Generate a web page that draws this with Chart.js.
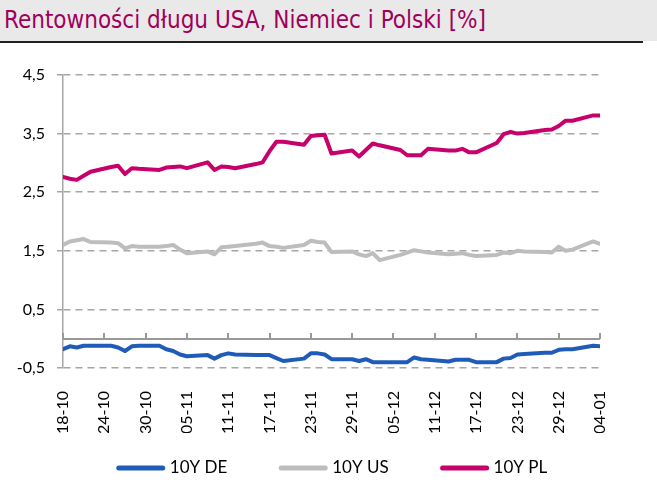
<!DOCTYPE html>
<html>
<head>
<meta charset="utf-8">
<script src="https://cdn.jsdelivr.net/npm/chart.js@4"></script>
<style>
    body { margin: 0; background: #fff; width: 657px; height: 495px; overflow: hidden; }
    #title {
        position: absolute; left: 0; top: 0; width: 657px; height: 41px;
        background: #e9e9e9;
        font-family: "DejaVu Sans Condensed", sans-serif;
        font-size: 24px; color: #a0005a;
        line-height: 41px; padding-left: 4px; box-sizing: border-box;
    }
    #rule { position: absolute; left: 0; top: 41px; width: 643px; height: 2px; background: #222; }
    #box { position: absolute; left: 0; top: 44px; width: 643px; height: 451px; }
</style>
</head>
<body>
<div id="title">Rentowności długu USA, Niemiec i Polski [%]</div>
<div id="rule"></div>
<div id="box"><canvas id="chart"></canvas></div>
<script>
// =============================
// Data (business days, 18-10-2021 .. 04-01-2022)
// =============================

const dates = [
    '2021-10-18', '2021-10-19', '2021-10-20', '2021-10-21', '2021-10-22',
    '2021-10-25', '2021-10-26', '2021-10-27', '2021-10-28', '2021-10-29',
    '2021-11-01', '2021-11-02', '2021-11-03', '2021-11-04', '2021-11-05',
    '2021-11-08', '2021-11-09', '2021-11-10', '2021-11-11', '2021-11-12',
    '2021-11-15', '2021-11-16', '2021-11-17', '2021-11-18', '2021-11-19',
    '2021-11-22', '2021-11-23', '2021-11-24', '2021-11-25', '2021-11-26',
    '2021-11-29', '2021-11-30', '2021-12-01', '2021-12-02', '2021-12-03',
    '2021-12-06', '2021-12-07', '2021-12-08', '2021-12-09', '2021-12-10',
    '2021-12-13', '2021-12-14', '2021-12-15', '2021-12-16', '2021-12-17',
    '2021-12-20', '2021-12-21', '2021-12-22', '2021-12-23', '2021-12-24',
    '2021-12-27', '2021-12-28', '2021-12-29', '2021-12-30', '2021-12-31',
    '2022-01-03', '2022-01-04'
];

const de10y = [
    -0.18, -0.13, -0.15, -0.12, -0.12,
    -0.12, -0.15, -0.21, -0.13, -0.12,
    -0.12, -0.18, -0.21, -0.27, -0.30,
    -0.28, -0.34, -0.28, -0.25, -0.27,
    -0.28, -0.28, -0.28, -0.33, -0.38,
    -0.34, -0.25, -0.25, -0.27, -0.35,
    -0.35, -0.38, -0.35, -0.40, -0.40,
    -0.40, -0.40, -0.32, -0.35, -0.36,
    -0.39, -0.36, -0.36, -0.36, -0.40,
    -0.40, -0.34, -0.33, -0.27, -0.26,
    -0.24, -0.24, -0.19, -0.18, -0.18,
    -0.12, -0.13
];

const us10y = [
    1.60, 1.66, 1.68, 1.70, 1.65,
    1.64, 1.63, 1.54, 1.58, 1.57,
    1.57, 1.58, 1.60, 1.52, 1.46,
    1.49, 1.44, 1.56, 1.57, 1.58,
    1.62, 1.64, 1.58, 1.57, 1.55,
    1.60, 1.67, 1.65, 1.64, 1.48,
    1.49, 1.44, 1.41, 1.46, 1.34,
    1.43, 1.47, 1.51, 1.49, 1.47,
    1.44, 1.45, 1.46, 1.43, 1.41,
    1.43, 1.47, 1.46, 1.50, 1.49,
    1.48, 1.47, 1.57, 1.50, 1.52,
    1.66, 1.62
];

const pl10y = [
    2.76, 2.73, 2.71, 2.78, 2.85,
    2.93, 2.95, 2.81, 2.91, 2.90,
    2.88, 2.92, 2.93, 2.94, 2.91,
    3.01, 2.88, 2.94, 2.93, 2.91,
    2.98, 3.01, 3.20, 3.36, 3.36,
    3.31, 3.46, 3.47, 3.48, 3.16,
    3.21, 3.11, 3.22, 3.33, 3.30,
    3.22, 3.13, 3.13, 3.13, 3.24,
    3.21, 3.21, 3.24, 3.18, 3.18,
    3.34, 3.49, 3.53, 3.50, 3.51,
    3.56, 3.57, 3.63, 3.72, 3.72,
    3.81, 3.81
];

// x tick labels, one every 6 calendar days
const tickLabels = ['18-10', '24-10', '30-10', '05-11', '11-11', '17-11', '23-11',
    '29-11', '05-12', '11-12', '17-12', '23-12', '29-12', '04-01'];

const yTicks = [-0.5, 0.5, 1.5, 2.5, 3.5, 4.5];

// =============================
// Chart
// =============================

const day0 = Date.parse(dates[0]);
const dayOffset = d => Math.round((Date.parse(d) - day0) / 86400000);

function points(values) {
    return values.map((v, i) => ({ x: dayOffset(dates[i]), y: v }));
}

function makeDataset(label, values, color) {
    return {
        label: label,
        data: points(values),
        borderColor: color,
        backgroundColor: color,
        borderWidth: 4,
        borderCapStyle: 'round',
        borderJoinStyle: 'round',
        pointRadius: 0,
        tension: 0,
        fill: false
    };
}

// solid zero line with upward tick marks, like the excel category axis
const zeroAxis = {
    id: 'zeroAxis',
    afterDraw(chart) {
        const ctx = chart.ctx;
        const xs = chart.scales.x;
        const ys = chart.scales.y;
        const y0 = Math.round(ys.getPixelForValue(0));
        ctx.save();
        ctx.setLineDash([]);
        ctx.strokeStyle = '#999999';
        ctx.lineWidth = 2;
        ctx.beginPath();
        ctx.moveTo(xs.left, y0);
        ctx.lineTo(xs.right, y0);
        ctx.stroke();
        ctx.beginPath();
        for (const t of xs.ticks) {
            const px = Math.round(xs.getPixelForValue(t.value));
            ctx.moveTo(px, y0);
            ctx.lineTo(px, y0 - 6);
        }
        ctx.stroke();
        ctx.restore();
    }
};

// legend row: line sample + label, items spaced out like the original
const lineLegend = {
    id: 'lineLegend',
    afterDraw(chart) {
        const ctx = chart.ctx;
        const sample = 48, gap = 5, spacing = 52;
        ctx.save();
        ctx.font = '17px Lato, "Open Sans", sans-serif';
        ctx.textBaseline = 'middle';
        const items = chart.data.datasets.map(ds => ({
            ds: ds,
            w: sample + gap + ctx.measureText(ds.label).width
        }));
        const total = items.reduce((s, it) => s + it.w, 0) + spacing * (items.length - 1);
        let x = 332 - total / 2;
        const y = chart.height - 27;
        items.forEach(it => {
            ctx.strokeStyle = it.ds.borderColor;
            ctx.lineWidth = 5;
            ctx.lineCap = 'round';
            ctx.beginPath();
            ctx.moveTo(x + 2, y);
            ctx.lineTo(x + sample - 2, y);
            ctx.stroke();
            ctx.fillStyle = '#000';
            ctx.fillText(it.ds.label, x + sample + gap, y);
            x += it.w + spacing;
        });
        ctx.restore();
    }
};

Chart.defaults.font.family = 'Lato, "Open Sans", sans-serif';
Chart.defaults.color = '#000';

new Chart(document.getElementById('chart'), {
    type: 'line',
    data: {
        datasets: [
            makeDataset('10Y DE', de10y, '#1f5cba'),
            makeDataset('10Y US', us10y, '#bdbdbd'),
            makeDataset('10Y PL', pl10y, '#c7006b')
        ]
    },
    options: {
        responsive: true,
        maintainAspectRatio: false,
        animation: false,
        layout: { padding: { top: 31, right: 43, bottom: 62, left: 0 } },
        scales: {
            x: {
                type: 'linear',
                min: 0,
                max: (tickLabels.length - 1) * 6,
                afterFit: s => { s.height = 65; },
                grid: { display: false },
                border: { display: false },
                ticks: {
                    stepSize: 6,
                    autoSkip: false,
                    minRotation: 90,
                    maxRotation: 90,
                    padding: 15,
                    font: { size: 16 },
                    callback: v => tickLabels[v / 6]
                }
            },
            y: {
                min: yTicks[0],
                max: yTicks[yTicks.length - 1],
                afterFit: s => { s.width = 63; },
                afterBuildTicks: s => { s.ticks = yTicks.map(v => ({ value: v })); },
                grid: {
                    color: '#a6a6a6',
                    lineWidth: 1.5,
                    tickLength: 6
                },
                border: { display: true, color: '#a6a6a6', width: 1.5, dash: [7, 5] },
                ticks: {
                    padding: 12,
                    font: { size: 16 },
                    callback: v => v.toFixed(1).replace('.', ',')
                }
            }
        },
        plugins: {
            legend: { display: false },
            tooltip: { enabled: false }
        }
    },
    plugins: [zeroAxis, lineLegend]
});
</script>
</body>
</html>
